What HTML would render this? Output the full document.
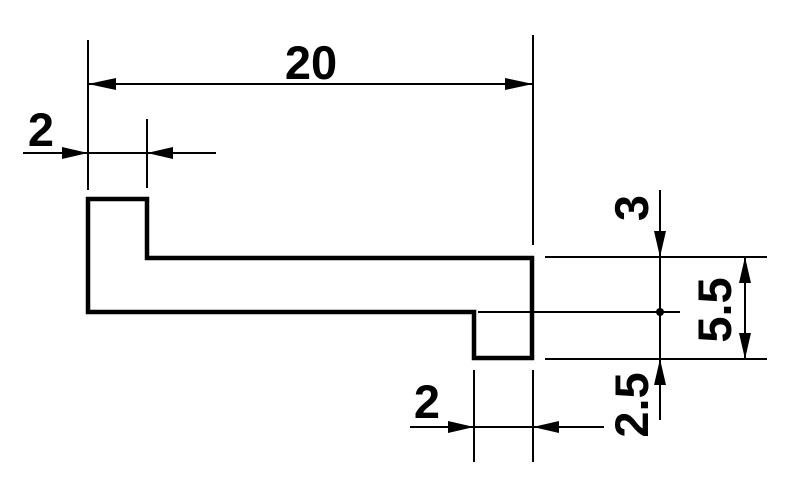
<!DOCTYPE html>
<html><head><style>
html,body{margin:0;padding:0;background:#fff;width:800px;height:496px;overflow:hidden}
text{font-family:"Liberation Sans",Arial,sans-serif;font-weight:bold;font-size:47px;fill:#000}
</style></head><body>
<svg width="800" height="496" viewBox="0 0 800 496" xmlns="http://www.w3.org/2000/svg">
<g stroke="#000" stroke-width="2" fill="none">
<line x1="88" y1="40" x2="88" y2="190"/>
<line x1="533" y1="35" x2="533" y2="245"/>
<line x1="147" y1="119" x2="147" y2="188"/>
<line x1="545" y1="257" x2="767" y2="257"/>
<line x1="545" y1="359" x2="767" y2="359"/>
<line x1="478" y1="312" x2="680" y2="312"/>
<line x1="660" y1="190" x2="660" y2="420"/>
<line x1="745" y1="257" x2="745" y2="359"/>
<line x1="474" y1="370" x2="474" y2="462"/>
<line x1="533" y1="370" x2="533" y2="462"/>
<line x1="88" y1="84" x2="533" y2="84"/>
<line x1="23" y1="153" x2="216" y2="153"/>
<line x1="410" y1="427" x2="604" y2="427"/>
</g>
<path d="M88 199 H147 V258 H532 V358 H474 V312 H88 Z" fill="none" stroke="#000" stroke-width="4.5"/>
<g fill="#000">
<polygon points="88,84 116,78 116,90"/>
<polygon points="533,84 505,78 505,90"/>
<polygon points="88,153 62,147 62,159"/>
<polygon points="147,153 173,147 173,159"/>
<polygon points="474,427 448,421 448,433"/>
<polygon points="533,427 559,421 559,433"/>
<polygon points="660,257 654,231 666,231"/>
<polygon points="660,359 654,385 666,385"/>
<polygon points="745,257 739,283 751,283"/>
<polygon points="745,359 739,333 751,333"/>
<circle cx="660" cy="312" r="4"/>
</g>
<text x="311" y="79" text-anchor="middle">20</text>
<text x="41" y="146" text-anchor="middle">2</text>
<text x="427" y="418" text-anchor="middle">2</text>
<text transform="translate(648,208) rotate(-90)" text-anchor="middle">3</text>
<text transform="translate(731,310) rotate(-90)" text-anchor="middle">5.5</text>
<text transform="translate(648,405) rotate(-90)" text-anchor="middle">2.5</text>
</svg>
</body></html>
